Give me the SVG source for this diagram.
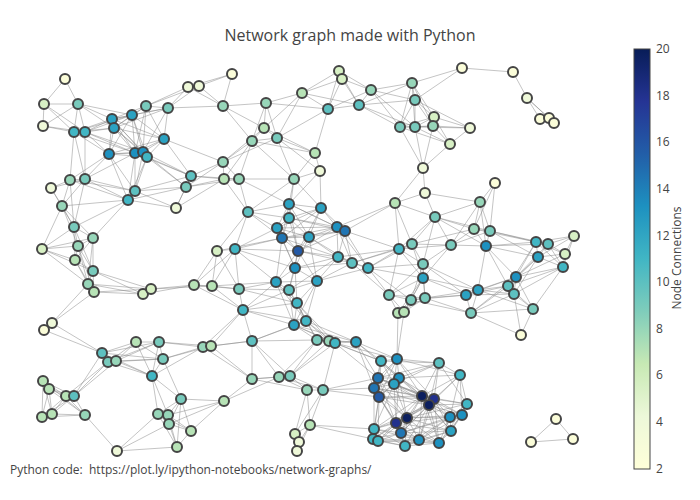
<svg xmlns="http://www.w3.org/2000/svg" width="700" height="500" viewBox="0 0 700 500">
<style>
.e{fill:none;stroke:#888;stroke-width:0.5}
.nd circle{stroke:#444;stroke-width:2}
.t{font-family:"Open Sans","Liberation Sans",sans-serif;fill:#444}
.c1{fill:#fbfdd9}.c2{fill:#eff9d9}.c3{fill:#d7f0c4}.c4{fill:#b7e3b6}.c5{fill:#97d6b9}.c6{fill:#78cabc}.c7{fill:#5dc0c0}.c8{fill:#41b6c4}.c9{fill:#2ba2c2}.c10{fill:#1d91c0}.c11{fill:#2075b3}.c12{fill:#2359a5}.c13{fill:#22318d}.c14{fill:#0c1f5e}
</style>
<defs>
<linearGradient id="cb" x1="0" y1="0" x2="0" y2="1">
<stop offset="0" stop-color="#081d58"/><stop offset="0.125" stop-color="#253494"/><stop offset="0.25" stop-color="#225ea8"/><stop offset="0.375" stop-color="#1d91c0"/><stop offset="0.5" stop-color="#41b6c4"/><stop offset="0.625" stop-color="#7fcdbb"/><stop offset="0.75" stop-color="#c7e9b4"/><stop offset="0.875" stop-color="#edf8d9"/><stop offset="1" stop-color="#ffffd9"/>
</linearGradient>
</defs>
<rect width="700" height="500" fill="#fff"/>
<text class="t" x="350" y="41" font-size="16" text-anchor="middle">Network graph made with Python</text>
<g id="edges">
<path class="e" d="M44 104L65 79 78 104M78 104L44 104 43 126M74 132L44 104 85 132M43 126L78 104 74 132M85 132L78 104 112 119M114 128L78 104 132 115M74 132L43 126 85 132M85 132L74 132 112 119M114 128L74 132 132 115M109 154L74 132 135 153M70 180L74 132 85 179M112 119L85 132 114 128M132 115L85 132 109 154M135 153L85 132 143 152M85 179L85 132M114 128L112 119 132 115M146 106L112 119 168 108M164 139L112 119 109 154M135 153L112 119 143 152M147 157L112 119M132 115L114 128 146 106M168 108L114 128 164 139M109 154L114 128 135 153M143 152L114 128 147 157M146 106L132 115 168 108M164 139L132 115 109 154M135 153L132 115 143 152M147 157L132 115M168 108L146 106 164 139M135 153L146 106 143 152M188 87L146 106 199 86M164 139L168 108 143 152M188 87L168 108 199 86M223 106L168 108M109 154L164 139 135 153M143 152L164 139 147 157M223 162L164 139 191 176M135 153L109 154 143 152M147 157L109 154 70 180M85 179L109 154 135 191M128 200L109 154M143 152L135 153 147 157M85 179L135 153 135 191M128 200L135 153 191 176M147 157L143 152 135 191M191 176L143 152 186 187M135 191L147 157 128 200M191 176L147 157 186 187M85 179L70 180 51 188M135 191L70 180 128 200M62 206L70 180 74 227M51 188L85 179 135 191M128 200L85 179 62 206M74 227L85 179M62 206L51 188 74 227M128 200L135 191 176 208M191 176L135 191 186 187M62 206L128 200 176 208M74 227L128 200 93 238M186 187L128 200M74 227L62 206 93 238M42 249L62 206 78 246M191 176L176 208 186 187M224 179L176 208M93 238L74 227 42 249M78 246L74 227 75 260M93 271L74 227M42 249L93 238 78 246M75 260L93 238 93 271M88 284L93 238M78 246L42 249 75 260M93 271L42 249 88 284M75 260L78 246 93 271M88 284L78 246 94 292M93 271L75 260 88 284M94 292L75 260M88 284L93 271 94 292M143 294L93 271 151 289M94 292L88 284 143 294M151 289L88 284 52 323M143 294L94 292 151 289M52 323L94 292M151 289L143 294 194 285M194 285L151 289 212 286M44 330L52 323 102 353M44 330L102 353"/>
<path class="e" d="M188 87L232 74 199 86M223 106L232 74M199 86L188 87 223 106M199 86L223 106M266 103L223 106 264 128M252 141L223 106M302 93L266 103 264 128M252 141L266 103 277 138M328 109L266 103M264 128L302 93 277 138M339 71L302 93 342 79M328 109L302 93 359 105M252 141L264 128 277 138M315 153L264 128 223 162M277 138L252 141 315 153M223 162L252 141 224 179M239 179L252 141 294 179M315 153L277 138 223 162M294 179L277 138 320 171M328 109L277 138M294 179L315 153 320 171M328 109L315 153M191 176L223 162 186 187M224 179L223 162 239 179M186 187L191 176 224 179M239 179L191 176M224 179L186 187 239 179M239 179L224 179 248 212M294 179L239 179 248 212M289 204L239 179M320 171L294 179 248 212M289 204L294 179 289 218M321 208L294 179M289 204L320 171 321 208M342 79L339 71 328 109M359 105L339 71 371 90M328 109L342 79 359 105M371 90L342 79M359 105L328 109 371 90M371 90L359 105 412 83M415 100L359 105 400 127M415 127L359 105M412 83L371 90 415 100M400 127L371 90 415 127M415 100L412 83 434 117M433 126L412 83 400 127M415 127L412 83 462 68M434 117L415 100 433 126M400 127L415 100 415 127M462 68L415 100 470 128M433 126L434 117 400 127M415 127L434 117 450 144M470 128L434 117M400 127L433 126 415 127M450 144L433 126 423 168M470 128L433 126M415 127L400 127 450 144M423 168L400 127M450 144L415 127 423 168M470 128L415 127M423 168L450 144 470 128M425 193L423 168 395 203M395 203L425 193 435 217M480 202L425 193M462 68L513 72M513 72L527 98M540 119L527 98 549 118M554 123L527 98M549 118L540 119 554 123M549 118L554 123M480 202L495 183 474 229M490 231L495 183"/>
<path class="e" d="M289 204L248 212 289 218M277 228L248 212 282 238M217 251L248 212 235 249M289 218L289 204 277 228M282 238L289 204 309 237M298 251L289 204 321 208M337 227L289 204 345 231M277 228L289 218 282 238M309 237L289 218 298 251M321 208L289 218 337 227M345 231L289 218M282 238L277 228 309 237M298 251L277 228 235 249M295 268L277 228 321 208M337 227L277 228M309 237L282 238 298 251M217 251L282 238 235 249M295 268L282 238 276 282M321 208L282 238 337 227M345 231L282 238 338 257M298 251L309 237 295 268M321 208L309 237 337 227M345 231L309 237 338 257M352 263L309 237 317 281M235 249L298 251 295 268M276 282L298 251 289 290M321 208L298 251 337 227M345 231L298 251 338 257M352 263L298 251 317 281M235 249L217 251 194 285M212 286L217 251 239 289M295 268L235 249 194 285M212 286L235 249 239 289M276 282L235 249M276 282L295 268 289 290M297 303L295 268 338 257M352 263L295 268 317 281M212 286L194 285 239 289M243 310L194 285M239 289L212 286 276 282M243 310L212 286M276 282L239 289 289 290M297 303L239 289 243 310M289 290L276 282 297 303M243 310L276 282 306 321M294 325L276 282 317 281M297 303L289 290 243 310M306 321L289 290 294 325M338 257L289 290 317 281M243 310L297 303 306 321M294 325L297 303 317 281M317 340L297 303 329 341M335 343L297 303M306 321L243 310 294 325M203 347L243 310 211 346M252 341L243 310M294 325L306 321 317 281M252 341L306 321 317 340M329 341L306 321 335 343M356 342L306 321M317 281L294 325 252 341M317 340L294 325 329 341M335 343L294 325 356 342M337 227L321 208 345 231M337 227L395 203 345 231M399 249L395 203 412 244M435 217L395 203M345 231L337 227 338 257M352 263L337 227 368 268M399 249L345 231 338 257M352 263L345 231 368 268M412 244L399 249 451 245M435 217L399 249 338 257M352 263L399 249 368 268M423 264L399 249 423 278M389 295L399 249M451 245L412 244 435 217M352 263L412 244 368 268M423 264L412 244 423 278M474 229L412 244M435 217L451 245 423 264M423 278L451 245 480 202M474 229L451 245 490 231M486 246L451 245M423 264L435 217 480 202M474 229L435 217 490 231M486 246L435 217M352 263L338 257 368 268M317 281L338 257M368 268L352 263 317 281M389 295L352 263M317 281L368 268 423 264M423 278L368 268 389 295M411 300L368 268M423 278L423 264 389 295M411 300L423 264 425 298M478 290L423 264 466 295M389 295L423 278 411 300M425 298L423 278 398 313M404 312L423 278 478 290M466 295L423 278M411 300L389 295 425 298M398 313L389 295 404 312M425 298L411 300 398 313M404 312L411 300 466 295M471 313L411 300M398 313L425 298 404 312M478 290L425 298 466 295M471 313L425 298M404 312L398 313 397 359M404 312L397 359M474 229L480 202 490 231M486 246L480 202M490 231L474 229 486 246M536 242L474 229M486 246L490 231 536 242M548 244L490 231 538 257M536 242L486 246 548 244M538 257L486 246 516 277M508 286L486 246 478 290M548 244L536 242 574 236M565 254L536 242 538 257M563 267L536 242 516 277M508 286L536 242M574 236L548 244 565 254M538 257L548 244 563 267M516 277L548 244M565 254L574 236 538 257M563 267L574 236M538 257L565 254 563 267M516 277L565 254M563 267L538 257 516 277M508 286L538 257 514 294M516 277L563 267 508 286M514 294L563 267 533 309M508 286L516 277 514 294M478 290L516 277 466 295M471 313L516 277 533 309M514 294L508 286 478 290M466 295L508 286 471 313M533 309L508 286M478 290L514 294 466 295M471 313L514 294 533 309M521 335L514 294M466 295L478 290 471 313M533 309L478 290M466 295L471 313M533 309L471 313 521 335M533 309L521 335"/>
<path class="e" d="M108 362L102 353 116 361M136 342L102 353 159 342M163 359L102 353 152 376M74 396L102 353M116 361L108 362 136 342M159 342L108 362 163 359M152 376L108 362 66 396M74 396L108 362M136 342L116 361 159 342M163 359L116 361 152 376M74 396L116 361M159 342L136 342 163 359M152 376L136 342M163 359L159 342 152 376M203 347L159 342 211 346M152 376L163 359 203 347M211 346L163 359 181 399M158 414L152 376 168 415M203 347L152 376 181 399M49 389L43 381 66 396M74 396L43 381 42 417M52 414L43 381 85 415M66 396L49 389 74 396M42 417L49 389 52 414M85 415L49 389M74 396L66 396 42 417M52 414L66 396 85 415M42 417L74 396 52 414M85 415L74 396M52 414L42 417 85 415M52 414L85 415M85 415L117 451M168 415L158 414 169 424M117 451L158 414 181 399M191 431L158 414 177 447M169 424L168 415 181 399M224 401L168 415 191 431M177 447L168 415M117 451L169 424 181 399M224 401L169 424 191 431M177 447L169 424M117 451L177 447M211 346L203 347 252 341M252 379L203 347M252 341L211 346 252 379M252 379L252 341 279 377M290 376L252 341 317 340M279 377L252 379 290 376M307 390L252 379 224 401M290 376L279 377 307 390M224 401L279 377 317 340M323 390L279 377M307 390L290 376 317 340M329 341L290 376 335 343M323 390L290 376M295 434L307 390 310 425M323 390L307 390M224 401L181 399 191 431M177 447L181 399M224 401L191 431M191 431L177 447M299 442L295 434 297 451M310 425L295 434 323 390M297 451L299 442 310 425M297 451L310 425M374 429L310 425 373 439M323 390L310 425M329 341L317 340 335 343M356 342L317 340M335 343L329 341 356 342M381 361L329 341M356 342L335 343 381 361M397 359L335 343 378 378M323 390L335 343M381 361L356 342 397 359M378 378L356 342 399 378M374 388L356 342M397 359L381 361 439 363M378 378L381 361 399 378M394 384L381 361 374 388M379 397L381 361 422 396M439 363L397 359 378 378M399 378L397 359 394 384M374 388L397 359 379 397M422 396L397 359 434 399M460 375L397 359M378 378L439 363 399 378M394 384L439 363 422 396M434 399L439 363 429 405M460 375L439 363 467 404M399 378L378 378 394 384M374 388L378 378 379 397M422 396L378 378 434 399M429 405L378 378 407 418M396 423L378 378 323 390M394 384L399 378 374 388M379 397L399 378 422 396M434 399L399 378 429 405M407 418L399 378 396 423M460 375L399 378M374 388L394 384 379 397M422 396L394 384 434 399M429 405L394 384 407 418M396 423L394 384 374 429M379 397L374 388 422 396M434 399L374 388 429 405M407 418L374 388 396 423M374 429L374 388 323 390M422 396L379 397 434 399M429 405L379 397 407 418M396 423L379 397 401 433M374 429L379 397 373 439M378 441L379 397 323 390M434 399L422 396 429 405M450 417L422 396 407 418M396 423L422 396 401 433M419 440L422 396 439 443M374 429L422 396 460 375M467 404L422 396 462 415M451 431L422 396M429 405L434 399 450 417M407 418L434 399 396 423M401 433L434 399 419 440M439 443L434 399 460 375M467 404L434 399 462 415M451 431L434 399M450 417L429 405 407 418M396 423L429 405 401 433M419 440L429 405 439 443M405 446L429 405 374 429M460 375L429 405 467 404M462 415L429 405 451 431M407 418L450 417 396 423M401 433L450 417 419 440M439 443L450 417 405 446M460 375L450 417 467 404M462 415L450 417 451 431M396 423L407 418 401 433M419 440L407 418 439 443M405 446L407 418 374 429M373 439L407 418 378 441M467 404L407 418 462 415M451 431L407 418M401 433L396 423 419 440M439 443L396 423 405 446M374 429L396 423 373 439M378 441L396 423 451 431M419 440L401 433 439 443M405 446L401 433 374 429M373 439L401 433 378 441M462 415L401 433 451 431M439 443L419 440 405 446M374 429L419 440 373 439M378 441L419 440 462 415M451 431L419 440M405 446L439 443 378 441M467 404L439 443 462 415M451 431L439 443M374 429L405 446 373 439M378 441L405 446 451 431M373 439L374 429 378 441M373 439L378 441M467 404L460 375 462 415M462 415L467 404 451 431M462 415L451 431M573 439L556 419 531 442M573 439L531 442"/>
</g>
<g id="nodes" class="nd">
<g id="n1"><circle class="c1" cx="65" cy="79" r="5"/></g>
<g id="n2"><circle class="c3" cx="44" cy="104" r="5"/></g>
<g id="n3"><circle class="c6" cx="78" cy="104" r="5"/></g>
<g id="n4"><circle class="c2" cx="43" cy="126" r="5"/></g>
<g id="n5"><circle class="c8" cx="74" cy="132" r="5"/></g>
<g id="n6"><circle class="c8" cx="85" cy="132" r="5"/></g>
<g id="n7"><circle class="c9" cx="112" cy="119" r="5"/></g>
<g id="n8"><circle class="c9" cx="114" cy="128" r="5"/></g>
<g id="n9"><circle class="c9" cx="132" cy="115" r="5"/></g>
<g id="n10"><circle class="c6" cx="146" cy="106" r="5"/></g>
<g id="n11"><circle class="c6" cx="168" cy="108" r="5"/></g>
<g id="n12"><circle class="c9" cx="164" cy="139" r="5"/></g>
<g id="n13"><circle class="c10" cx="109" cy="154" r="5"/></g>
<g id="n14"><circle class="c10" cx="135" cy="153" r="5"/></g>
<g id="n15"><circle class="c10" cx="143" cy="152" r="5"/></g>
<g id="n16"><circle class="c8" cx="147" cy="157" r="5"/></g>
<g id="n17"><circle class="c5" cx="70" cy="180" r="5"/></g>
<g id="n18"><circle class="c6" cx="85" cy="179" r="5"/></g>
<g id="n19"><circle class="c2" cx="51" cy="188" r="5"/></g>
<g id="n20"><circle class="c7" cx="135" cy="191" r="5"/></g>
<g id="n21"><circle class="c8" cx="128" cy="200" r="5"/></g>
<g id="n22"><circle class="c5" cx="62" cy="206" r="5"/></g>
<g id="n23"><circle class="c2" cx="176" cy="208" r="5"/></g>
<g id="n24"><circle class="c6" cx="74" cy="227" r="5"/></g>
<g id="n25"><circle class="c5" cx="93" cy="238" r="5"/></g>
<g id="n26"><circle class="c3" cx="42" cy="249" r="5"/></g>
<g id="n27"><circle class="c5" cx="78" cy="246" r="5"/></g>
<g id="n28"><circle class="c4" cx="75" cy="260" r="5"/></g>
<g id="n29"><circle class="c6" cx="93" cy="271" r="5"/></g>
<g id="n30"><circle class="c5" cx="88" cy="284" r="5"/></g>
<g id="n31"><circle class="c4" cx="94" cy="292" r="5"/></g>
<g id="n32"><circle class="c3" cx="143" cy="294" r="5"/></g>
<g id="n33"><circle class="c3" cx="151" cy="289" r="5"/></g>
<g id="n34"><circle class="c2" cx="52" cy="323" r="5"/></g>
<g id="n35"><circle class="c1" cx="44" cy="330" r="5"/></g>
<g id="n36"><circle class="c1" cx="232" cy="74" r="5"/></g>
<g id="n37"><circle class="c2" cx="188" cy="87" r="5"/></g>
<g id="n38"><circle class="c2" cx="199" cy="86" r="5"/></g>
<g id="n39"><circle class="c5" cx="223" cy="106" r="5"/></g>
<g id="n40"><circle class="c5" cx="266" cy="103" r="5"/></g>
<g id="n41"><circle class="c4" cx="302" cy="93" r="5"/></g>
<g id="n42"><circle class="c4" cx="264" cy="128" r="5"/></g>
<g id="n43"><circle class="c5" cx="252" cy="141" r="5"/></g>
<g id="n44"><circle class="c6" cx="277" cy="138" r="5"/></g>
<g id="n45"><circle class="c4" cx="315" cy="153" r="5"/></g>
<g id="n46"><circle class="c5" cx="223" cy="162" r="5"/></g>
<g id="n47"><circle class="c7" cx="191" cy="176" r="5"/></g>
<g id="n48"><circle class="c6" cx="186" cy="187" r="5"/></g>
<g id="n49"><circle class="c4" cx="224" cy="179" r="5"/></g>
<g id="n50"><circle class="c5" cx="239" cy="179" r="5"/></g>
<g id="n51"><circle class="c5" cx="294" cy="179" r="5"/></g>
<g id="n52"><circle class="c2" cx="320" cy="171" r="5"/></g>
<g id="n53"><circle class="c3" cx="339" cy="71" r="5"/></g>
<g id="n54"><circle class="c3" cx="342" cy="79" r="5"/></g>
<g id="n55"><circle class="c7" cx="328" cy="109" r="5"/></g>
<g id="n56"><circle class="c7" cx="359" cy="105" r="5"/></g>
<g id="n57"><circle class="c5" cx="371" cy="90" r="5"/></g>
<g id="n58"><circle class="c5" cx="412" cy="83" r="5"/></g>
<g id="n59"><circle class="c6" cx="415" cy="100" r="5"/></g>
<g id="n60"><circle class="c3" cx="434" cy="117" r="5"/></g>
<g id="n61"><circle class="c5" cx="433" cy="126" r="5"/></g>
<g id="n62"><circle class="c6" cx="400" cy="127" r="5"/></g>
<g id="n63"><circle class="c6" cx="415" cy="127" r="5"/></g>
<g id="n64"><circle class="c3" cx="450" cy="144" r="5"/></g>
<g id="n65"><circle class="c2" cx="423" cy="168" r="5"/></g>
<g id="n66"><circle class="c2" cx="425" cy="193" r="5"/></g>
<g id="n67"><circle class="c1" cx="462" cy="68" r="5"/></g>
<g id="n68"><circle class="c1" cx="513" cy="72" r="5"/></g>
<g id="n69"><circle class="c2" cx="527" cy="98" r="5"/></g>
<g id="n70"><circle class="c1" cx="540" cy="119" r="5"/></g>
<g id="n71"><circle class="c1" cx="549" cy="118" r="5"/></g>
<g id="n72"><circle class="c1" cx="554" cy="123" r="5"/></g>
<g id="n73"><circle class="c2" cx="470" cy="128" r="5"/></g>
<g id="n74"><circle class="c1" cx="495" cy="183" r="5"/></g>
<g id="n75"><circle class="c7" cx="248" cy="212" r="5"/></g>
<g id="n76"><circle class="c9" cx="289" cy="204" r="5"/></g>
<g id="n77"><circle class="c8" cx="289" cy="218" r="5"/></g>
<g id="n78"><circle class="c9" cx="277" cy="228" r="5"/></g>
<g id="n79"><circle class="c11" cx="282" cy="238" r="5"/></g>
<g id="n80"><circle class="c9" cx="309" cy="237" r="5"/></g>
<g id="n81"><circle class="c12" cx="298" cy="251" r="5"/></g>
<g id="n82"><circle class="c3" cx="217" cy="251" r="5"/></g>
<g id="n83"><circle class="c8" cx="235" cy="249" r="5"/></g>
<g id="n84"><circle class="c10" cx="295" cy="268" r="5"/></g>
<g id="n85"><circle class="c4" cx="194" cy="285" r="5"/></g>
<g id="n86"><circle class="c4" cx="212" cy="286" r="5"/></g>
<g id="n87"><circle class="c6" cx="239" cy="289" r="5"/></g>
<g id="n88"><circle class="c9" cx="276" cy="282" r="5"/></g>
<g id="n89"><circle class="c7" cx="289" cy="290" r="5"/></g>
<g id="n90"><circle class="c8" cx="297" cy="303" r="5"/></g>
<g id="n91"><circle class="c8" cx="243" cy="310" r="5"/></g>
<g id="n92"><circle class="c8" cx="306" cy="321" r="5"/></g>
<g id="n93"><circle class="c9" cx="294" cy="325" r="5"/></g>
<g id="n94"><circle class="c9" cx="321" cy="208" r="5"/></g>
<g id="n95"><circle class="c4" cx="395" cy="203" r="5"/></g>
<g id="n96"><circle class="c10" cx="337" cy="227" r="5"/></g>
<g id="n97"><circle class="c11" cx="345" cy="231" r="5"/></g>
<g id="n98"><circle class="c8" cx="399" cy="249" r="5"/></g>
<g id="n99"><circle class="c6" cx="412" cy="244" r="5"/></g>
<g id="n100"><circle class="c6" cx="451" cy="245" r="5"/></g>
<g id="n101"><circle class="c6" cx="435" cy="217" r="5"/></g>
<g id="n102"><circle class="c8" cx="338" cy="257" r="5"/></g>
<g id="n103"><circle class="c7" cx="352" cy="263" r="5"/></g>
<g id="n104"><circle class="c8" cx="368" cy="268" r="5"/></g>
<g id="n105"><circle class="c9" cx="317" cy="281" r="5"/></g>
<g id="n106"><circle class="c6" cx="423" cy="264" r="5"/></g>
<g id="n107"><circle class="c9" cx="423" cy="278" r="5"/></g>
<g id="n108"><circle class="c6" cx="389" cy="295" r="5"/></g>
<g id="n109"><circle class="c6" cx="411" cy="300" r="5"/></g>
<g id="n110"><circle class="c6" cx="425" cy="298" r="5"/></g>
<g id="n111"><circle class="c4" cx="398" cy="313" r="5"/></g>
<g id="n112"><circle class="c4" cx="404" cy="312" r="5"/></g>
<g id="n113"><circle class="c5" cx="480" cy="202" r="5"/></g>
<g id="n114"><circle class="c5" cx="474" cy="229" r="5"/></g>
<g id="n115"><circle class="c6" cx="490" cy="231" r="5"/></g>
<g id="n116"><circle class="c10" cx="486" cy="246" r="5"/></g>
<g id="n117"><circle class="c8" cx="536" cy="242" r="5"/></g>
<g id="n118"><circle class="c7" cx="548" cy="244" r="5"/></g>
<g id="n119"><circle class="c3" cx="574" cy="236" r="5"/></g>
<g id="n120"><circle class="c3" cx="565" cy="254" r="5"/></g>
<g id="n121"><circle class="c9" cx="538" cy="257" r="5"/></g>
<g id="n122"><circle class="c8" cx="563" cy="267" r="5"/></g>
<g id="n123"><circle class="c10" cx="516" cy="277" r="5"/></g>
<g id="n124"><circle class="c7" cx="508" cy="286" r="5"/></g>
<g id="n125"><circle class="c7" cx="514" cy="294" r="5"/></g>
<g id="n126"><circle class="c9" cx="478" cy="290" r="5"/></g>
<g id="n127"><circle class="c9" cx="466" cy="295" r="5"/></g>
<g id="n128"><circle class="c6" cx="471" cy="313" r="5"/></g>
<g id="n129"><circle class="c6" cx="533" cy="309" r="5"/></g>
<g id="n130"><circle class="c1" cx="521" cy="335" r="5"/></g>
<g id="n131"><circle class="c7" cx="102" cy="353" r="5"/></g>
<g id="n132"><circle class="c6" cx="108" cy="362" r="5"/></g>
<g id="n133"><circle class="c5" cx="116" cy="361" r="5"/></g>
<g id="n134"><circle class="c4" cx="136" cy="342" r="5"/></g>
<g id="n135"><circle class="c6" cx="159" cy="342" r="5"/></g>
<g id="n136"><circle class="c6" cx="163" cy="359" r="5"/></g>
<g id="n137"><circle class="c8" cx="152" cy="376" r="5"/></g>
<g id="n138"><circle class="c4" cx="43" cy="381" r="5"/></g>
<g id="n139"><circle class="c4" cx="49" cy="389" r="5"/></g>
<g id="n140"><circle class="c4" cx="66" cy="396" r="5"/></g>
<g id="n141"><circle class="c7" cx="74" cy="396" r="5"/></g>
<g id="n142"><circle class="c4" cx="42" cy="417" r="5"/></g>
<g id="n143"><circle class="c4" cx="52" cy="414" r="5"/></g>
<g id="n144"><circle class="c5" cx="85" cy="415" r="5"/></g>
<g id="n145"><circle class="c5" cx="158" cy="414" r="5"/></g>
<g id="n146"><circle class="c5" cx="168" cy="415" r="5"/></g>
<g id="n147"><circle class="c5" cx="169" cy="424" r="5"/></g>
<g id="n148"><circle class="c2" cx="117" cy="451" r="5"/></g>
<g id="n149"><circle class="c5" cx="203" cy="347" r="5"/></g>
<g id="n150"><circle class="c4" cx="211" cy="346" r="5"/></g>
<g id="n151"><circle class="c7" cx="252" cy="341" r="5"/></g>
<g id="n152"><circle class="c5" cx="252" cy="379" r="5"/></g>
<g id="n153"><circle class="c5" cx="279" cy="377" r="5"/></g>
<g id="n154"><circle class="c6" cx="290" cy="376" r="5"/></g>
<g id="n155"><circle class="c5" cx="307" cy="390" r="5"/></g>
<g id="n156"><circle class="c6" cx="181" cy="399" r="5"/></g>
<g id="n157"><circle class="c4" cx="224" cy="401" r="5"/></g>
<g id="n158"><circle class="c4" cx="191" cy="431" r="5"/></g>
<g id="n159"><circle class="c4" cx="177" cy="447" r="5"/></g>
<g id="n160"><circle class="c3" cx="295" cy="434" r="5"/></g>
<g id="n161"><circle class="c2" cx="299" cy="442" r="5"/></g>
<g id="n162"><circle class="c2" cx="297" cy="451" r="5"/></g>
<g id="n163"><circle class="c4" cx="310" cy="425" r="5"/></g>
<g id="n164"><circle class="c6" cx="317" cy="340" r="5"/></g>
<g id="n165"><circle class="c5" cx="329" cy="341" r="5"/></g>
<g id="n166"><circle class="c8" cx="335" cy="343" r="5"/></g>
<g id="n167"><circle class="c9" cx="356" cy="342" r="5"/></g>
<g id="n168"><circle class="c8" cx="381" cy="361" r="5"/></g>
<g id="n169"><circle class="c10" cx="397" cy="359" r="5"/></g>
<g id="n170"><circle class="c7" cx="439" cy="363" r="5"/></g>
<g id="n171"><circle class="c11" cx="378" cy="378" r="5"/></g>
<g id="n172"><circle class="c10" cx="399" cy="378" r="5"/></g>
<g id="n173"><circle class="c9" cx="394" cy="384" r="5"/></g>
<g id="n174"><circle class="c11" cx="374" cy="388" r="5"/></g>
<g id="n175"><circle class="c12" cx="379" cy="397" r="5"/></g>
<g id="n176"><circle class="c14" cx="422" cy="396" r="5"/></g>
<g id="n177"><circle class="c13" cx="434" cy="399" r="5"/></g>
<g id="n178"><circle class="c14" cx="429" cy="405" r="5"/></g>
<g id="n179"><circle class="c10" cx="450" cy="417" r="5"/></g>
<g id="n180"><circle class="c14" cx="407" cy="418" r="5"/></g>
<g id="n181"><circle class="c13" cx="396" cy="423" r="5"/></g>
<g id="n182"><circle class="c11" cx="401" cy="433" r="5"/></g>
<g id="n183"><circle class="c10" cx="419" cy="440" r="5"/></g>
<g id="n184"><circle class="c10" cx="439" cy="443" r="5"/></g>
<g id="n185"><circle class="c8" cx="405" cy="446" r="5"/></g>
<g id="n186"><circle class="c8" cx="374" cy="429" r="5"/></g>
<g id="n187"><circle class="c8" cx="373" cy="439" r="5"/></g>
<g id="n188"><circle class="c8" cx="378" cy="441" r="5"/></g>
<g id="n189"><circle class="c6" cx="323" cy="390" r="5"/></g>
<g id="n190"><circle class="c8" cx="460" cy="375" r="5"/></g>
<g id="n191"><circle class="c8" cx="467" cy="404" r="5"/></g>
<g id="n192"><circle class="c10" cx="462" cy="415" r="5"/></g>
<g id="n193"><circle class="c9" cx="451" cy="431" r="5"/></g>
<g id="n194"><circle class="c1" cx="556" cy="419" r="5"/></g>
<g id="n195"><circle class="c1" cx="573" cy="439" r="5"/></g>
<g id="n196"><circle class="c1" cx="531" cy="442" r="5"/></g>
</g>
<g id="colorbar">
<rect x="634" y="49" width="16" height="420" fill="url(#cb)" stroke="#444" stroke-width="1"/>
<g class="t" font-size="12" dominant-baseline="middle">
<text x="656" y="50">20</text>
<text x="656" y="96.6">18</text>
<text x="656" y="143.2">16</text>
<text x="656" y="189.8">14</text>
<text x="656" y="236.4">12</text>
<text x="656" y="283">10</text>
<text x="656" y="329.6">8</text>
<text x="656" y="376.2">6</text>
<text x="656" y="422.8">4</text>
<text x="656" y="469.4">2</text>
</g>
<text class="t" font-size="12" text-anchor="middle" transform="translate(681 258) rotate(-90)">Node Connections</text>
</g>
<text class="t" x="10" y="474" font-size="12" xml:space="preserve">Python code:  https://plot.ly/ipython-notebooks/network-graphs/</text>
</svg>
